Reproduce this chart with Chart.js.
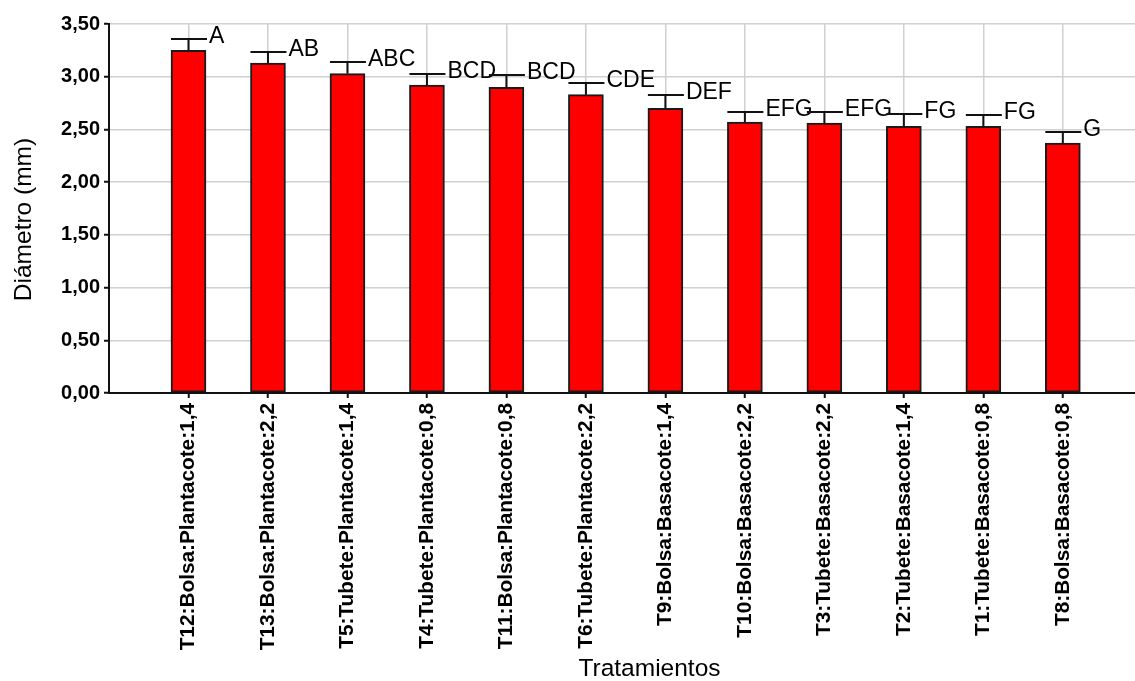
<!DOCTYPE html>
<html lang="es">
<head>
<meta charset="utf-8">
<title>Diámetro por tratamiento</title>
<script src="https://cdn.jsdelivr.net/npm/chart.js@4.4.1/dist/chart.umd.min.js"></script>
<style>
  html, body { margin: 0; padding: 0; background: #ffffff; overflow: hidden; }
  #wrap { position: relative; width: 1135px; height: 681px; overflow: hidden; }
  #chart { position: absolute; left: 0; top: 0; }
</style>
</head>
<body>
<div id="wrap">
  <canvas id="chart" width="1190" height="681"></canvas>
</div>
<script>
// Treatments, ordered by mean diameter
const categories = [
  'T12:Bolsa:Plantacote:1,4',
  'T13:Bolsa:Plantacote:2,2',
  'T5:Tubete:Plantacote:1,4',
  'T4:Tubete:Plantacote:0,8',
  'T11:Bolsa:Plantacote:0,8',
  'T6:Tubete:Plantacote:2,2',
  'T9:Bolsa:Basacote:1,4',
  'T10:Bolsa:Basacote:2,2',
  'T3:Tubete:Basacote:2,2',
  'T2:Tubete:Basacote:1,4',
  'T1:Tubete:Basacote:0,8',
  'T8:Bolsa:Basacote:0,8'
];
// Mean stem diameter (mm)
const means = [3.25, 3.13, 3.03, 2.92, 2.90, 2.83, 2.70, 2.57, 2.56, 2.53, 2.53, 2.37];
// Standard error (mm)
const errors = [0.11, 0.10, 0.11, 0.11, 0.12, 0.11, 0.13, 0.10, 0.11, 0.12, 0.11, 0.11];
// Mean separation groups
const letters = ['A', 'AB', 'ABC', 'BCD', 'BCD', 'CDE', 'DEF', 'EFG', 'EFG', 'FG', 'FG', 'G'];
// Y axis tick values
const yTickValues = [0, 0.5, 1, 1.5, 2, 2.5, 3, 3.5];
const yAxisTitle = 'Diámetro (mm)';
const xAxisTitle = 'Tratamientos';

const FONT = "'Liberation Sans', Arial, 'DejaVu Sans', sans-serif";
const INK = '#000000';

// Error bars (upper whisker with cap) and the group letters beside each cap
const errorBarPlugin = {
  id: 'errorBars',
  afterDatasetsDraw(chart) {
    const ctx = chart.ctx;
    const meta = chart.getDatasetMeta(0);
    const yScale = chart.scales.y;
    ctx.save();
    ctx.strokeStyle = '#111111';
    ctx.lineWidth = 2;
    ctx.lineCap = 'butt';
    ctx.font = '23px ' + FONT;
    ctx.fillStyle = INK;
    ctx.textAlign = 'left';
    ctx.textBaseline = 'alphabetic';
    meta.data.forEach((bar, i) => {
      const half = bar.width / 2;
      const yTop = bar.y;
      const yCap = Math.round(yScale.getPixelForValue(means[i] + errors[i]));
      ctx.beginPath();
      ctx.moveTo(bar.x, yTop);
      ctx.lineTo(bar.x, yCap);
      ctx.moveTo(bar.x - half, yCap);
      ctx.lineTo(bar.x + half + 1, yCap);
      ctx.stroke();
      ctx.fillText(letters[i], bar.x + half + 3, yCap + 4);
    });
    ctx.restore();
  }
};

// Vertical title of the value axis, set a little below the axis midpoint
const yTitlePlugin = {
  id: 'yTitle',
  afterDraw(chart) {
    const ctx = chart.ctx;
    const area = chart.chartArea;
    ctx.save();
    ctx.translate(24, (area.top + area.bottom) / 2 + 11);
    ctx.rotate(-Math.PI / 2);
    ctx.font = '24.5px ' + FONT;
    ctx.fillStyle = INK;
    ctx.textAlign = 'center';
    ctx.textBaseline = 'middle';
    ctx.fillText(yAxisTitle, 0, 0);
    ctx.restore();
  }
};

const ctx = document.getElementById('chart').getContext('2d');
new Chart(ctx, {
  type: 'bar',
  data: {
    datasets: [{
      data: means.map((m, i) => ({ x: i + 1, y: m })),
      backgroundColor: '#ff0000',
      borderColor: '#1a1a1a',
      borderWidth: 2,
      borderSkipped: false,
      barThickness: 35
    }]
  },
  options: {
    responsive: false,
    devicePixelRatio: 1,
    animation: false,
    layout: { padding: { left: 0, right: 0, top: 24, bottom: 0 } },
    plugins: {
      legend: { display: false },
      tooltip: { enabled: false }
    },
    scales: {
      x: {
        type: 'linear',
        min: 0,
        max: 13.6,
        offset: false,
        grid: {
          offset: false,
          color: '#d0d0d0',
          lineWidth: 1.5,
          tickColor: '#111111',
          tickWidth: 2,
          tickLength: 5,
          drawTicks: true
        },
        border: { display: true, color: '#111111', width: 2 },
        afterBuildTicks(scale) {
          scale.ticks = categories.map((_, i) => ({ value: i + 1 }));
        },
        afterFit(scale) { scale.height = 288; },
        ticks: {
          autoSkip: false,
          minRotation: 90,
          maxRotation: 90,
          padding: 5,
          color: INK,
          font: { family: FONT, size: 20.8, weight: 'bold' },
          callback: (v) => categories[v - 1] || ''
        },
        title: {
          display: true,
          text: xAxisTitle,
          color: INK,
          font: { family: FONT, size: 24.5, lineHeight: 1 },
          padding: { top: 0, bottom: 0 }
        }
      },
      y: {
        min: 0,
        max: 3.5,
        afterBuildTicks(scale) {
          scale.ticks = yTickValues.map(v => ({ value: v }));
        },
        afterFit(scale) { scale.width = 109; },
        grid: {
          color: '#d0d0d0',
          lineWidth: 1.5,
          tickColor: '#111111',
          tickWidth: 2,
          tickLength: 5,
          drawTicks: true
        },
        border: { display: true, color: '#111111', width: 2 },
        ticks: {
          padding: 4,
          color: INK,
          font: { family: FONT, size: 20, weight: 'bold' },
          callback: (v) => v.toFixed(2).replace('.', ',')
        },
        title: { display: false }
      }
    }
  },
  plugins: [errorBarPlugin, yTitlePlugin]
});
</script>
</body>
</html>
